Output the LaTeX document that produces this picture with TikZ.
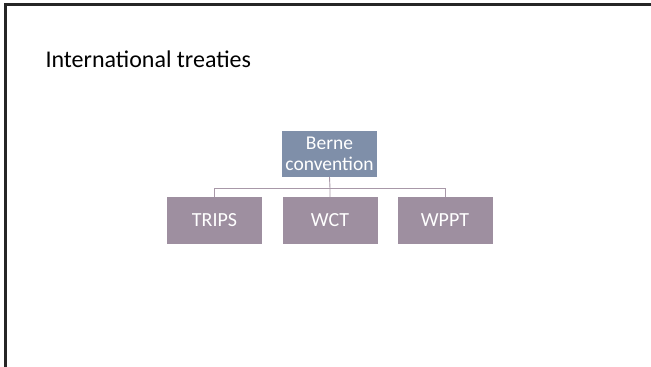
\documentclass[tikz,border=0pt]{standalone}
\usepackage{fontspec}
\setmainfont{Carlito}
\usetikzlibrary{positioning}
\definecolor{topbox}{HTML}{7F8FA9}
\definecolor{treatybox}{HTML}{9E8FA0}
\definecolor{branchline}{HTML}{A898A8}

\begin{document}
\begin{tikzpicture}[x=1pt, y=-1pt,
    treaty/.style={fill=treatybox, text=white, minimum width=95pt, minimum height=47pt, inner sep=0pt, font=\fontsize{20}{23}\selectfont},
    branch/.style={draw=branchline, line width=0.9pt}]
            \useasboundingbox (0,0) rectangle (651,367);
            % Frame
            \draw[line width=3pt, black!85] (651,4) -- (5,4) -- (5,367);
            \node[anchor=base west, font=\fontsize{24}{28}\selectfont] (title) at (42,67) {International treaties};

            % Top of the tree
            \node[treaty, fill=topbox, minimum height=46pt, align=center, font=\fontsize{19.5}{23}\selectfont] (berne) at (329.5,154) {Berne\\[-2pt]convention};

            % Treaties
            \node[treaty] (trips) at (214.5,220.5) {TRIPS};
            \node[treaty] (wct) at (330,220.5) {WCT};
            \node[treaty] (wppt) at (445,220.5) {WPPT};

            % Branches
            \coordinate (fork) at ([yshift=-11pt]berne.south);
            \draw[branch] (berne.south) -- (fork -| wct.north) -- (wct.north);
            \draw[branch] (fork) -| (trips.north);
            \draw[branch] (fork) -| (wppt.north);
        \end{tikzpicture}
\end{document}
